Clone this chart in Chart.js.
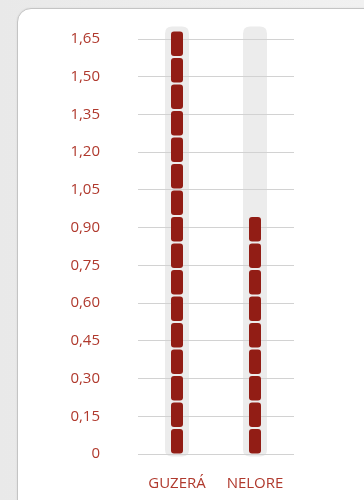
<!DOCTYPE html>
<html>
<head>
<meta charset="utf-8">
<script src="https://cdn.jsdelivr.net/npm/chart.js@4"></script>
<style>
  html, body { margin: 0; padding: 0; }
  body { width: 364px; height: 500px; background: linear-gradient(90deg, #e9e9e9, #f1f1f1); position: relative; overflow: hidden; }
  .card { position: absolute; left: 17px; top: 8px; width: 420px; height: 520px; background: #fff; border: 1px solid #c4c4c4; border-radius: 14px; box-shadow: 0 0 2px rgba(0,0,0,0.08); }
  #chart { position: absolute; left: 0; top: 0; }
</style>
</head>
<body>
<div class="card"></div>
<canvas id="chart" width="364" height="500"></canvas>
<script>
// data
var categories = ["GUZERÁ", "NELORE"];
var values = [1.68, 0.94];
var yTicks = [0, 0.15, 0.30, 0.45, 0.60, 0.75, 0.90, 1.05, 1.20, 1.35, 1.50, 1.65];
var trackTop = 1.70;

var barRed = "#921d15";
var labelRed = "#b0392d";
var trackGray = "#ececec";

function roundRect(ctx, x, y, w, h, r) {
    ctx.beginPath();
    ctx.moveTo(x + r, y);
    ctx.lineTo(x + w - r, y);
    ctx.quadraticCurveTo(x + w, y, x + w, y + r);
    ctx.lineTo(x + w, y + h - r);
    ctx.quadraticCurveTo(x + w, y + h, x + w - r, y + h);
    ctx.lineTo(x + r, y + h);
    ctx.quadraticCurveTo(x, y + h, x, y + h - r);
    ctx.lineTo(x, y + r);
    ctx.quadraticCurveTo(x, y, x + r, y);
    ctx.closePath();
}

// gray track behind each bar, drawn before the grid
const trackPlugin = {
    id: "tracks",
    beforeDraw(chart) {
        const ctx = chart.ctx;
        const yScale = chart.scales.y;
        const top = yScale.getPixelForValue(trackTop);
        chart.getDatasetMeta(0).data.forEach(el => {
            const w = 24;
            ctx.save();
            ctx.fillStyle = trackGray;
            roundRect(ctx, el.x - w / 2, top, w, el.base + 3 - top, 7);
            ctx.fill();
            ctx.restore();
        });
    }
};

// bars painted as a stack of small rounded blocks
const blockPlugin = {
    id: "blocks",
    afterDatasetsDraw(chart) {
        const ctx = chart.ctx;
        const period = 26.5, gap = 2, h = period - gap;
        chart.getDatasetMeta(0).data.forEach(el => {
            const n = Math.round((el.base - el.y + gap) / period);
            const w = el.width;
            ctx.save();
            ctx.fillStyle = barRed;
            for (let i = 0; i < n; i++) {
                const bottom = el.base - i * period;
                roundRect(ctx, el.x - w / 2, bottom - h, w, h, 3);
                ctx.fill();
            }
            ctx.restore();
        });
    }
};

const ctx = document.getElementById("chart").getContext("2d");

new Chart(ctx, {
    type: "bar",
    data: {
        labels: categories,
        datasets: [{
            data: values,
            backgroundColor: "rgba(0,0,0,0)",
            barThickness: 12
        }]
    },
    options: {
        responsive: false,
        animation: false,
        layout: { padding: { top: 39, right: 70, bottom: 0, left: 0 } },
        plugins: {
            legend: { display: false },
            tooltip: { enabled: false }
        },
        scales: {
            x: {
                grid: { display: false, drawTicks: false },
                border: { display: false },
                ticks: {
                    color: labelRed,
                    padding: 21,
                    font: { family: "'Open Sans'", size: 15 }
                },
                afterFit(scale) { scale.height = 46; }
            },
            y: {
                min: 0,
                max: 1.65,
                grid: { color: "#d2d2d2", lineWidth: 1, drawTicks: false },
                border: { display: false },
                ticks: {
                    color: labelRed,
                    padding: 38,
                    font: { family: "'Open Sans'", size: 15 },
                    callback: v => v === 0 ? "0" : v.toFixed(2).replace(".", ",")
                },
                afterBuildTicks(scale) {
                    scale.ticks = yTicks.map(v => ({ value: v }));
                },
                afterFit(scale) {
                    scale.width = 138;
                    // the big tick padding should not push the plot down
                    scale.paddingTop = 9;
                    scale.paddingBottom = 9;
                }
            }
        }
    },
    plugins: [trackPlugin, blockPlugin]
});
</script>
</body>
</html>
